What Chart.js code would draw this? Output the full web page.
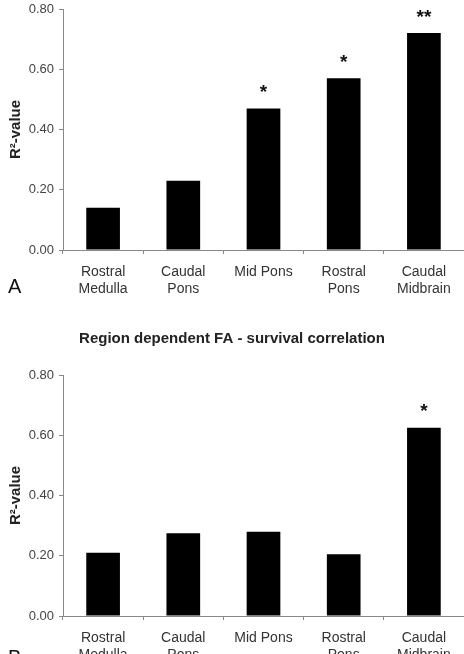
<!DOCTYPE html>
<html>
<head>
<meta charset="utf-8">
<script src="https://cdn.jsdelivr.net/npm/chart.js@4.4.0/dist/chart.umd.min.js"></script>
<style>
  html, body { margin: 0; padding: 0; background: #fff; overflow: hidden; }
  #wrap { position: relative; width: 464px; height: 654px; overflow: hidden; }
  .pane { position: absolute; left: 0; width: 464px; }
</style>
</head>
<body>
<div id="wrap">
  <div class="pane" style="top:0;height:300px"><canvas id="chartA"></canvas></div>
  <div class="pane" style="top:300px;height:366px"><canvas id="chartB"></canvas></div>
</div>
<script>
// regions along the brainstem
var regions = [["Rostral", "Medulla"], ["Caudal", "Pons"], "Mid Pons", ["Rostral", "Pons"], ["Caudal", "Midbrain"]];
// R^2 values
var r2A = [0.14, 0.23, 0.47, 0.57, 0.72];
var r2B = [0.21, 0.275, 0.28, 0.205, 0.625];
// significance marks above each bar
var starsA = ["", "", "*", "*", "**"];
var starsB = ["", "", "", "", "*"];
var yTicks = [0, 0.2, 0.4, 0.6, 0.8];

var FONT = "'Liberation Sans', Arial, sans-serif";

// draws the asterisks over bars and the panel letter
var marks = {
  id: "marks",
  afterDatasetsDraw: function (chart, args, opts) {
    var ctx = chart.ctx;
    var meta = chart.getDatasetMeta(0);
    ctx.save();
    ctx.fillStyle = "#111";
    ctx.font = "bold 19px " + FONT;
    ctx.textAlign = "center";
    ctx.textBaseline = "bottom";
    meta.data.forEach(function (bar, i) {
      var s = opts.stars[i];
      if (s) ctx.fillText(s, bar.x, bar.y - 6);
    });
    ctx.font = "20px " + FONT;
    ctx.textAlign = "left";
    ctx.textBaseline = "alphabetic";
    ctx.fillText(opts.letter, 8, opts.letterY);
    ctx.restore();
  }
};

function makeChart(id, values, stars, letter, letterY, withTitle) {
  return new Chart(document.getElementById(id), {
    type: "bar",
    data: {
      labels: regions,
      datasets: [{
        data: values,
        backgroundColor: "#000",
        borderWidth: 0,
        barPercentage: 0.42,
        categoryPercentage: 1
      }]
    },
    options: {
      responsive: true,
      maintainAspectRatio: false,
      animation: false,
      layout: { padding: { top: 0, right: 0, left: 0, bottom: 0 } },
      plugins: {
        legend: { display: false },
        tooltip: { enabled: false },
        title: {
          display: withTitle,
          text: "Region dependent FA - survival correlation",
          color: "#222",
          font: { family: FONT, size: 15, weight: "bold" },
          padding: { top: 30, bottom: 27 }
        },
        marks: { stars: stars, letter: letter, letterY: letterY }
      },
      scales: {
        x: {
          grid: { offset: true, drawOnChartArea: false, color: "#888", tickLength: 4 },
          border: { color: "#888", width: 1 },
          ticks: { color: "#333", font: { family: FONT, size: 14 }, padding: 10, maxRotation: 0, autoSkip: false },
          afterFit: function (s) { s.height = 50; }
        },
        y: {
          min: 0,
          max: 0.8,
          afterBuildTicks: function (s) { s.ticks = yTicks.map(function (v) { return { value: v }; }); },
          grid: { drawOnChartArea: false, color: "#888", tickLength: 4 },
          border: { color: "#888", width: 1 },
          ticks: {
            color: "#444",
            font: { family: FONT, size: 13 },
            padding: 5,
            callback: function (v) { return v.toFixed(2); }
          },
          title: {
            display: true,
            text: "R²-value",
            color: "#222",
            font: { family: FONT, size: 15, weight: "bold" },
            padding: { top: 7, bottom: 4 }
          },
          afterFit: function (s) {
            s.width = 63;
            s.paddingTop = 9;
          }
        }
      }
    },
    plugins: [marks]
  });
}

makeChart("chartA", r2A, starsA, "A", 293, false);
makeChart("chartB", r2B, starsB, "B", 364, true);
</script>
</body>
</html>
